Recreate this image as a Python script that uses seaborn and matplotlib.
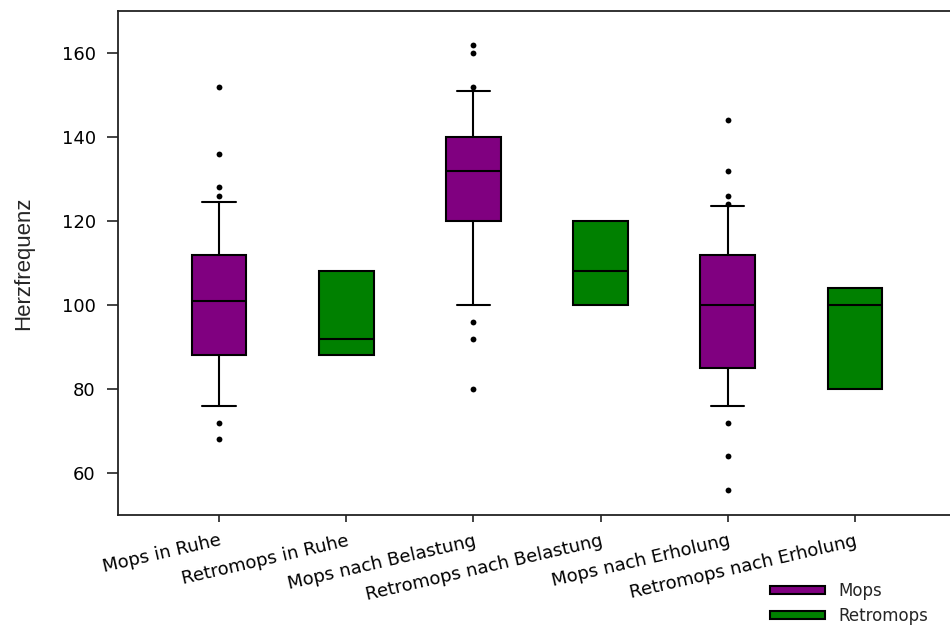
import matplotlib
matplotlib.use("Agg")
import matplotlib.pyplot as plt
import numpy as np
import pandas as pd
import seaborn as sns
from matplotlib.patches import Patch

# ---------------- data ----------------
categories = ["Mops in Ruhe", "Retromops in Ruhe", "Mops nach Belastung",
              "Retromops nach Belastung", "Mops nach Erholung", "Retromops nach Erholung"]
groups = ["Mops", "Retromops", "Mops", "Retromops", "Mops", "Retromops"]
q1 = [88, 88, 120, 100, 85, 80]
medians = [101, 92, 132, 108, 100, 100]
q3 = [112, 108, 140, 120, 112, 104]
whisker_low = [76, 88, 100, 100, 76, 80]
whisker_high = [124.6, 108, 151, 120, 123.6, 104]
outliers_mops_ruhe = [152, 136, 128, 126, 72, 68]
outliers_mops_belastung = [162, 160, 152, 96, 92, 80]
outliers_mops_erholung = [144, 132, 126, 124, 72, 64, 56]
y_ticks = [60, 80, 100, 120, 140, 160]
group_colors = {"Mops": "#800080", "Retromops": "#008000"}

# ---------------- style ----------------
sns.set_style("ticks")
plt.rcParams["font.family"] = ["DejaVu Sans"]

fig = plt.figure(figsize=(9.5, 6.27), dpi=100)
ax = fig.add_axes([118 / 950, 112 / 627, 832 / 950, 504 / 627])

# outliers via seaborn
out_df = pd.DataFrame({
    "category": [categories[0]] * len(outliers_mops_ruhe)
    + [categories[2]] * len(outliers_mops_belastung)
    + [categories[4]] * len(outliers_mops_erholung),
    "value": outliers_mops_ruhe + outliers_mops_belastung + outliers_mops_erholung,
})
sns.stripplot(data=out_df, x="category", y="value", order=categories, jitter=False,
              color="black", size=4.2, linewidth=0, ax=ax, zorder=4)

# boxes from summary stats
stats = []
for i, c in enumerate(categories):
    stats.append(dict(med=medians[i], q1=q1[i], q3=q3[i], whislo=whisker_low[i],
                      whishi=whisker_high[i], fliers=[], label=c))
capw = [0.26 if g == "Mops" else 0.0 for g in groups]
bp = ax.bxp(stats, positions=list(range(len(categories))), widths=0.43, patch_artist=True,
            showfliers=False, manage_ticks=False, capwidths=capw,
            boxprops=dict(edgecolor="black", linewidth=1.5),
            medianprops=dict(color="black", linewidth=1.5),
            whiskerprops=dict(color="black", linewidth=1.5),
            capprops=dict(color="black", linewidth=1.5))
for patch, g in zip(bp["boxes"], groups):
    patch.set_facecolor(group_colors[g])
    patch.set_zorder(2)

# axes
ax.set_xlim(-0.794, 5.747)
ax.set_ylim(50, 170)
ax.set_yticks(y_ticks)
ax.set_yticklabels([str(t) for t in y_ticks], fontsize=13)
ax.set_xticks(range(len(categories)))
ax.set_xticklabels(categories, fontsize=13, rotation=13, ha="right",
                   rotation_mode="anchor")
ax.set_xlabel("")
ax.set_ylabel("Herzfrequenz", fontsize=16, family=["Liberation Sans"])
ax.yaxis.set_label_coords(-0.101, 0.5)
ax.tick_params(axis="y", length=8, width=1.2, pad=8, colors="#222222", labelcolor="black")
ax.tick_params(axis="x", length=5, width=1.2, pad=7, colors="#222222", labelcolor="black")
for s in ["left", "bottom", "top"]:
    ax.spines[s].set_linewidth(1.3)
    ax.spines[s].set_color("#222222")
ax.spines["right"].set_visible(False)

handles = [Patch(facecolor=group_colors["Mops"], edgecolor="black", linewidth=1.5),
           Patch(facecolor=group_colors["Retromops"], edgecolor="black", linewidth=1.5)]
fig.legend(handles, ["Mops", "Retromops"], loc="lower left", bbox_to_anchor=(768 / 950, 0.0),
           frameon=False, fontsize=12, handlelength=3.3, handleheight=0.35,
           handletextpad=0.8, labelspacing=0.45, borderpad=0.1, borderaxespad=0)

fig.savefig("out.png", dpi=100)
